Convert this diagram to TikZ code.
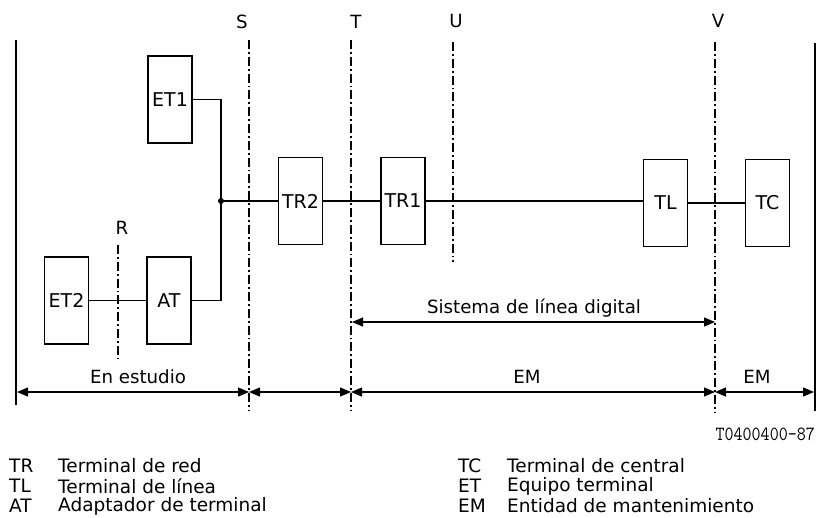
\documentclass[tikz,border=0pt]{standalone}
\usepackage{fontspec}
\setmainfont{DejaVu Sans}
\usetikzlibrary{arrows.meta}
\tikzset{
  blk/.style={draw, line width=1.6pt, minimum width=44pt, minimum height=87pt, inner sep=0pt, font=\fontsize{19}{21}\selectfont},
  wire/.style={line width=1.4pt},
  iface/.style={line width=2pt, dash pattern=on 9pt off 3pt on 1.8pt off 3pt},
  edge/.style={line width=1.6pt},
  lbl/.style={font=\fontsize{18.2}{20}\selectfont, inner sep=0pt},
  dim/.style={line width=1.3pt, {Triangle[length=11pt,width=9pt]}-{Triangle[length=11pt,width=9pt]}},
  leg/.style={font=\fontsize{18.5}{20}\selectfont, anchor=west, inner sep=0pt},
}
\begin{document}
\begin{tikzpicture}[x=1pt,y=-1pt]
\useasboundingbox (0,0) rectangle (818,517);
% boundary lines
\coordinate (L1) at (16,40); \coordinate (L2) at (16,405);
\coordinate (Rt1) at (815,43); \coordinate (Rt2) at (815,411);
\draw[edge] (L1) -- (L2);
\draw[edge] (Rt1) -- (Rt2);
% interface lines
\coordinate (S1) at (249,40); \coordinate (S2) at (249,410);
\coordinate (T1) at (351,40); \coordinate (T2) at (351,410);
\coordinate (U1) at (453,42); \coordinate (U2) at (453,262);
\coordinate (V1) at (715,42); \coordinate (V2) at (715,412);
\coordinate (R1) at (118,245); \coordinate (R2) at (118,358);
\draw[iface] (S1) -- (S2);
\draw[iface] (T1) -- (T2);
\draw[iface] (U1) -- (U2);
\draw[iface] (V1) -- (V2);
\draw[iface] (R1) -- (R2);
\node[lbl] (lS) at (242,22) {S};
\node[lbl] (lT) at (356,22) {T};
\node[lbl] (lU) at (456,21) {U};
\node[lbl] (lV) at (718,21) {V};
\node[lbl] (lR) at (122,228) {R};
% boxes
\node[blk] (ET1) at (170,99.5) {ET1};
\node[blk] (TR2) at (300.5,201) {TR2};
\node[blk] (TR1) at (403,201) {TR1};
\node[blk] (TL) at (665.5,203) {TL};
\node[blk] (TC) at (767.5,203) {TC};
\node[blk] (ET2) at (66.5,300.5) {ET2};
\node[blk] (AT) at (169,300.5) {AT};
% wiring
\coordinate (J) at (221,201);
\draw[wire] (ET1.east) -| (J) |- (AT.east);
\fill (J) circle (3pt);
\draw[wire] (J) -- (TR2.west);
\draw[wire] (TR2.east) -- (TR1.west);
\draw[wire] (TR1.east) -- (TR1.east -| TL.west);
\draw[wire] (TL.east) -- (TC.west);
\draw[wire] (ET2.east) -- (AT.west);
% dimension arrows
\coordinate (sA) at (352,322); \coordinate (sB) at (715,322);
\draw[line width=1.3pt, {Triangle[length=11pt,width=9pt]}-{Triangle[length=11pt,width=9pt]}] (sA) -- (sB);
\node[lbl] (sys) at (534,308) {Sistema de línea digital};
\coordinate (d0) at (17,392); \coordinate (d1) at (249,392);
\coordinate (d2) at (351,392); \coordinate (d3) at (715,392);
\coordinate (d4) at (814,392);
\draw[dim] (d0) -- (d1);
\draw[dim] (d1) -- (d2);
\draw[dim] (d2) -- (d3);
\draw[dim] (d3) -- (d4);
\node[lbl] (est) at (138,377) {En estudio};
\node[lbl] (em1) at (527,377) {EM};
\node[lbl] (em2) at (757,377) {EM};
% reference
\node[anchor=east, inner sep=0pt, font=\fontsize{17.5}{20}\ttfamily] (ref) at (815,434) {\scalebox{1}[1.15]{T0400400-87}};
% legend
\node[leg] (a1) at (9,466) {TR};
\node[leg] (a2) at (9,486) {TL};
\node[leg] (a3) at (9,506) {AT};
\node[leg] (b1) at (58,466) {Terminal de red};
\node[leg] (b2) at (58,486) {Terminal de línea};
\node[leg] (b3) at (58,506) {Adaptador de terminal};
\node[leg] (c1) at (458,466) {TC};
\node[leg] (c2) at (458,486) {ET};
\node[leg] (c3) at (458,506) {EM};
\node[leg] (e1) at (507,466) {Terminal de central};
\node[leg] (e2) at (507,486) {Equipo terminal};
\node[leg] (e3) at (507,506) {Entidad de mantenimiento};
\end{tikzpicture}
\end{document}
